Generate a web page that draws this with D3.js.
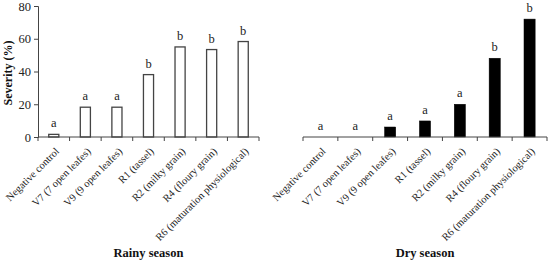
<!DOCTYPE html>
<html>
<head>
<meta charset="utf-8">
<script src="https://cdn.jsdelivr.net/npm/d3@7"></script>
<style>
  body { margin: 0; background: #fff; }
  svg, svg text { font-family: "Liberation Serif", "Times New Roman", serif; }
</style>
</head>
<body>
<div id="chart"></div>
<script>
// categories (growth stages)
var stages = ["Negative control", "V7 (7 open leafes)", "V9 (9 open leafes)", "R1 (tassel)",
              "R2 (milky grain)", "R4 (floury grain)", "R6 (maturation physiological)"];

// severity (%) per season
var rainy = [1.6, 18.2, 18.2, 38.1, 55, 53.4, 58.3];
var dry = [0, 0, 6.1, 9.8, 20, 48.1, 72];

// significance letters
var rainyLetters = ["a", "a", "a", "b", "b", "b", "b"];
var dryLetters = ["a", "a", "a", "a", "a", "b", "b"];

var yTicks = [0, 20, 40, 60, 80];

var svg = d3.select("#chart")
    .append("svg")
    .attr("width", 548)
    .attr("height", 265);

// shared y scale
var y = d3.scaleLinear()
    .domain([0, 80])
    .range([137, 6]);

// y axis (only on the left panel)
var yAxis = svg.append("g")
    .attr("transform", "translate(38,0)")
    .call(d3.axisLeft(y).tickValues(yTicks).tickSize(4).tickPadding(3));
yAxis.attr("font-family", null);
yAxis.select(".domain").attr("stroke", "#444");
yAxis.selectAll(".tick line").attr("stroke", "#444");
yAxis.selectAll(".tick text")
    .attr("font-size", 12.5)
    .attr("fill", "#222");

// y axis label
svg.append("text")
    .attr("transform", "translate(12,73) rotate(-90)")
    .attr("text-anchor", "middle")
    .attr("font-size", 12)
    .attr("font-weight", "bold")
    .attr("fill", "#111")
    .text("Severity (%)");

function panel(values, letters, x0, x1, title, fill) {
    var x = d3.scaleBand()
        .domain(stages)
        .range([x0, x1])
        .paddingInner(0.68)
        .paddingOuter(0.34);

    var g = svg.append("g");

    // bars
    g.selectAll("rect")
        .data(values)
        .enter()
        .append("rect")
        .attr("x", function (d, i) { return x(stages[i]); })
        .attr("y", function (d) { return y(d); })
        .attr("width", x.bandwidth())
        .attr("height", function (d) { return y(0) - y(d); })
        .attr("fill", fill)
        .attr("stroke", fill == "#fff" ? "#444" : "#000")
        .attr("stroke-width", fill == "#fff" ? 1.3 : 0.5);

    // x axis line, ticks at band boundaries
    g.append("line")
        .attr("x1", x0).attr("x2", x1)
        .attr("y1", y(0)).attr("y2", y(0))
        .attr("stroke", "#444");
    g.selectAll(".bt")
        .data(d3.range(stages.length + 1))
        .enter()
        .append("line")
        .attr("x1", function (i) { return x0 + i * x.step(); })
        .attr("x2", function (i) { return x0 + i * x.step(); })
        .attr("y1", y(0))
        .attr("y2", y(0) + 4)
        .attr("stroke", "#444");

    // letters
    g.selectAll(".lt")
        .data(letters)
        .enter()
        .append("text")
        .attr("x", function (d, i) { return x(stages[i]) + x.bandwidth() / 2; })
        .attr("y", function (d, i) { return y(values[i]) - 7; })
        .attr("text-anchor", "middle")
        .attr("font-size", 12.5)
        .attr("fill", "#222")
        .text(function (d) { return d; });

    // category labels
    g.selectAll(".cl")
        .data(stages)
        .enter()
        .append("text")
        .attr("transform", function (d) {
            return "translate(" + (x(d) + x.bandwidth() / 2 + 6) + ",152) rotate(-45)";
        })
        .attr("text-anchor", "end")
        .attr("font-size", 10.5)
        .attr("fill", "#222")
        .text(function (d) { return d; });

    // panel title
    g.append("text")
        .attr("x", (x0 + x1) / 2)
        .attr("y", 257)
        .attr("text-anchor", "middle")
        .attr("font-size", 12.5)
        .attr("font-weight", "bold")
        .attr("fill", "#111")
        .text(title);
}

panel(rainy, rainyLetters, 38, 259, "Rainy season", "#fff");
panel(dry, dryLetters, 303, 547, "Dry season", "#000");
</script>
</body>
</html>
